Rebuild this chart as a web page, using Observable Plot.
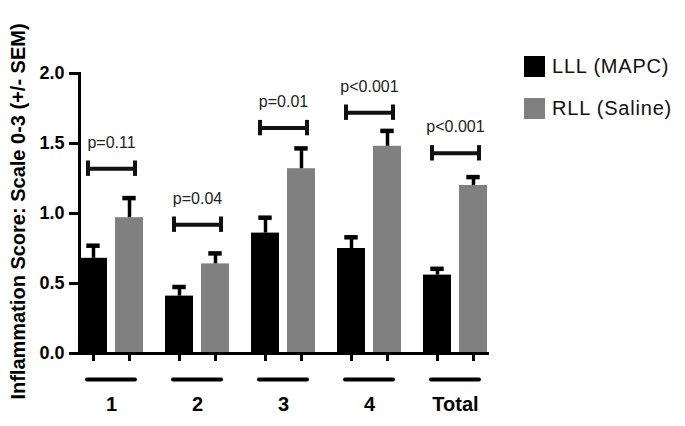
<!DOCTYPE html>
<html><head><meta charset="utf-8">
<script src="https://cdn.jsdelivr.net/npm/d3@7"></script>
<script src="https://cdn.jsdelivr.net/npm/@observablehq/plot@0.6"></script>
<style>
body{margin:0;background:#fff;}
#chart{position:relative;width:685px;height:426px;font-family:"Liberation Sans",Arial,Helvetica,sans-serif;}
#chart svg{position:absolute;left:0;top:0;}
#legend{position:absolute;left:524px;top:56px;}
.item{display:flex;align-items:center;height:21px;margin-bottom:20.5px;font-size:20px;letter-spacing:0.8px;color:#111;white-space:nowrap;}
.sw{width:21px;height:21px;margin-right:7px;flex:none;}
g[aria-label="y-label"] text{letter-spacing:1.7px;}
</style></head><body><div id="chart"></div>
<script>
const groups = ["1", "2", "3", "4", "Total"];
const series = ["LLL (MAPC)", "RLL (Saline)"];
const lllMean = [0.68, 0.41, 0.86, 0.75, 0.56];
const lllSem  = [0.09, 0.065, 0.11, 0.08, 0.045];
const rllMean = [0.97, 0.64, 1.32, 1.48, 1.20];
const rllSem  = [0.14, 0.075, 0.145, 0.11, 0.06];
const pLabels = ["p=0.11", "p=0.04", "p=0.01", "p<0.001", "p<0.001"];
const bracketY = [1.32, 0.92, 1.61, 1.72, 1.43];
const yTicks = [0, 0.5, 1.0, 1.5, 2.0];
const colors = ["#000000", "#808080"];
const yLabel = "Inflammation Score: Scale 0-3 (+/- SEM)";

const bars = [];
groups.forEach((g, i) => {
  bars.push({group: g, series: series[0], mean: lllMean[i], sem: lllSem[i]});
  bars.push({group: g, series: series[1], mean: rllMean[i], sem: rllSem[i]});
});
const brackets = groups.map((g, i) => ({group: g, y: bracketY[i], p: pLabels[i]}));
const font = "'Liberation Sans', Arial, Helvetica, sans-serif";
const tickHalf = 0.055;

const plot = Plot.plot({
  width: 685, height: 426,
  marginLeft: 78, marginRight: 197, marginTop: 73, marginBottom: 73,
  style: {fontFamily: font, background: "transparent", color: "#000"},
  fx: {domain: groups, paddingInner: 0.26, paddingOuter: 0, axis: null, label: null},
  x: {domain: series, paddingInner: 8 / 36, paddingOuter: 0, axis: null, label: null},
  y: {domain: [0, 2], axis: null, label: null},
  color: {domain: series, range: colors},
  marks: [
    Plot.barY(bars, {fx: "group", x: "series", y: "mean", fill: "series"}),
    Plot.ruleX(bars, {fx: "group", x: "series", y1: "mean", y2: d => d.mean + d.sem, stroke: "#000", strokeWidth: 3.5}),
    Plot.tickY(bars, {fx: "group", x: "series", y: d => d.mean + d.sem, stroke: "#000", strokeWidth: 4.5, insetLeft: 7.3, insetRight: 7.3}),
    Plot.ruleY(brackets, {fx: "group", y: "y", stroke: "#111", strokeWidth: 4, insetLeft: 8.5, insetRight: 8.5}),
    Plot.ruleX(brackets, {fx: "group", x: () => series[0], y1: d => d.y - tickHalf, y2: d => d.y + tickHalf, dx: -5.5, stroke: "#111", strokeWidth: 4}),
    Plot.ruleX(brackets, {fx: "group", x: () => series[1], y1: d => d.y - tickHalf, y2: d => d.y + tickHalf, dx: 5.5, stroke: "#111", strokeWidth: 4}),
    Plot.text(brackets, {fx: "group", y: "y", text: "p", dy: -26, fontSize: 16, fill: "#222"}),
    Plot.ruleY(groups, {fx: d => d, y: 0, dy: 26, insetLeft: 8, insetRight: 8, stroke: "#000", strokeWidth: 4, strokeLinecap: "round"}),
    Plot.axisX({tickSize: 8, tickFormat: () => "", strokeWidth: 3, label: null}),
    Plot.axisFx({anchor: "bottom", tickSize: 0, tickPadding: 43, fontSize: 20, fontWeight: "bold", label: null}),
    Plot.axisY({ticks: yTicks, tickFormat: ".1f", tickSize: 10, tickPadding: 5, strokeWidth: 3, fontSize: 18, fontWeight: "bold", label: null}),
    Plot.frame({anchor: "bottom", facet: "super", stroke: "#000", strokeWidth: 3}),
    Plot.frame({anchor: "left", facet: "super", stroke: "#000", strokeWidth: 3}),
    Plot.text([yLabel], {facet: "super", frameAnchor: "left", textAnchor: "middle", text: d => d, rotate: -90, dx: -61, dy: -2, fontSize: 20, fontWeight: "bold", fill: "#000", ariaLabel: "y-label"})
  ]
});

const chart = document.getElementById("chart");
chart.appendChild(plot);

const legend = document.createElement("div");
legend.id = "legend";
series.forEach((s, i) => {
  const item = document.createElement("div");
  item.className = "item";
  const sw = document.createElement("span");
  sw.className = "sw";
  sw.style.background = colors[i];
  const label = document.createElement("span");
  label.textContent = s;
  item.appendChild(sw);
  item.appendChild(label);
  legend.appendChild(item);
});
chart.appendChild(legend);
</script>
</body></html>
